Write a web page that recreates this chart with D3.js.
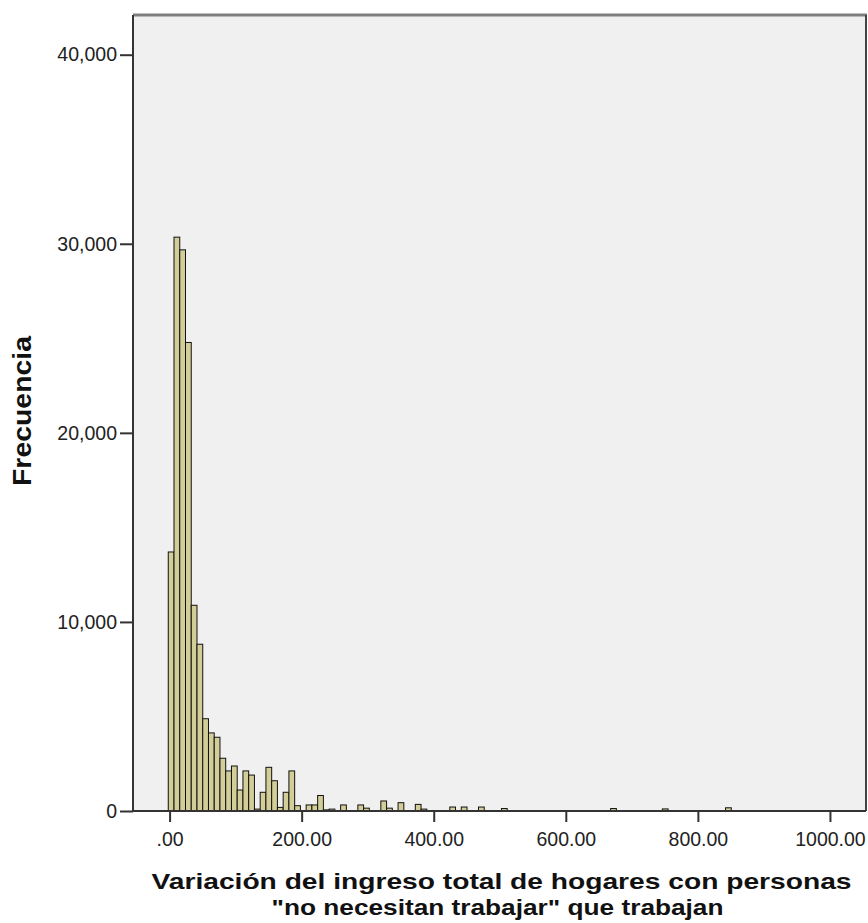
<!DOCTYPE html>
<html>
<head>
<meta charset="utf-8">
<script src="https://cdn.jsdelivr.net/npm/d3@7"></script>
<style>
  html, body { margin: 0; padding: 0; background: #ffffff; }
  svg { display: block; }
</style>
</head>
<body>
<svg id="chart" width="868" height="923"></svg>
<script>
// ---- data ----
const binStart = -2;       // lower edge of first bin
const binWidth = 8.7;      // width of each bin
const counts = [
  13700, 30350, 29680, 24780, 10880, 8820, 4880, 4130, 3900, 2790,
  2120, 2380, 1110, 2120, 1900, 100, 990, 2310, 1600, 190,
  990, 2120, 280, 0, 320, 320, 820, 60, 100, 0,
  320, 0, 0, 320, 150, 0, 0, 530, 150, 0,
  440, 0, 0, 350, 100, 0, 0, 0, 0, 210,
  0, 210, 0, 0, 210, 0, 0, 0, 130, 0,
  0, 0, 0, 0, 0, 0, 0, 0, 0, 0,
  0, 0, 0, 0, 0, 0, 0, 130, 0, 0,
  0, 0, 0, 0, 0, 0, 110, 0, 0, 0,
  0, 0, 0, 0, 0, 0, 0, 170
];
const yTicks = [0, 10000, 20000, 30000, 40000];
const xTicks = [0, 200, 400, 600, 800, 1000];
const xTickLabels = [".00", "200.00", "400.00", "600.00", "800.00", "1000.00"];
const xDomain = [-55.4, 1054.6];
const yDomain = [0, 42100];
const xTitle = ["Variación del ingreso total de hogares con personas", "\"no necesitan trabajar\" que trabajan"];
const yTitle = "Frecuencia";

// ---- layout ----
const plot = { left: 133, right: 866, top: 15, bottom: 811 };
const svg = d3.select("#chart");
const font = "'Liberation Sans', Arial, sans-serif";
const textColor = "#222222";

const x = d3.scaleLinear().domain(xDomain).range([plot.left, plot.right]);
const y = d3.scaleLinear().domain(yDomain).range([plot.bottom, plot.top]);

// background
svg.append("rect")
  .attr("x", plot.left).attr("y", plot.top)
  .attr("width", plot.right - plot.left).attr("height", plot.bottom - plot.top)
  .attr("fill", "#f0f0f0");

// bars
const bins = counts.map((c, i) => ({ x0: binStart + i * binWidth, x1: binStart + (i + 1) * binWidth, c }));
svg.append("g").selectAll("rect")
  .data(bins.filter(d => d.c > 0))
  .join("rect")
  .attr("x", d => x(d.x0))
  .attr("y", d => y(d.c))
  .attr("width", d => x(d.x1) - x(d.x0))
  .attr("height", d => y(0) - y(d.c))
  .attr("fill", "#d3ce97")
  .attr("stroke", "#111111")
  .attr("stroke-width", 1);

// frame: top (gray) and right
svg.append("line")
  .attr("x1", plot.left).attr("x2", plot.right + 1)
  .attr("y1", plot.top).attr("y2", plot.top)
  .attr("stroke", "#7f7f7f").attr("stroke-width", 3);
svg.append("line")
  .attr("x1", plot.right).attr("x2", plot.right)
  .attr("y1", plot.top).attr("y2", plot.bottom)
  .attr("stroke", "#444444").attr("stroke-width", 2);

// y axis
const yAxis = svg.append("g")
  .attr("transform", `translate(${plot.left},0)`)
  .call(d3.axisLeft(y).tickValues(yTicks).tickFormat(d3.format(",")).tickSize(13).tickPadding(3));
yAxis.select(".domain").attr("stroke", "#333333").attr("stroke-width", 2)
  .attr("d", `M0,${plot.top}V${plot.bottom}`);
yAxis.selectAll(".tick line").attr("stroke", "#333333").attr("stroke-width", 2);
yAxis.selectAll(".tick text").attr("font-family", font).attr("font-size", 19.5).attr("fill", textColor);

// x axis
const xAxis = svg.append("g")
  .attr("transform", `translate(0,${plot.bottom})`)
  .call(d3.axisBottom(x).tickValues(xTicks).tickFormat((d, i) => xTickLabels[i]).tickSize(11).tickPadding(10));
xAxis.select(".domain").attr("stroke", "#333333").attr("stroke-width", 2)
  .attr("d", `M${plot.left},0H${plot.right}`);
xAxis.selectAll(".tick line").attr("stroke", "#333333").attr("stroke-width", 2);
xAxis.selectAll(".tick text").attr("font-family", font).attr("font-size", 19.5).attr("fill", textColor);

// titles
const cx = (plot.left + plot.right) / 2;
svg.append("text")
  .attr("x", cx + 2).attr("y", 889)
  .attr("text-anchor", "middle")
  .attr("font-family", font).attr("font-weight", "bold").attr("font-size", 22)
  .attr("textLength", 700).attr("lengthAdjust", "spacingAndGlyphs")
  .attr("fill", "#111111")
  .text(xTitle[0]);
svg.append("text")
  .attr("x", cx - 2).attr("y", 915)
  .attr("text-anchor", "middle")
  .attr("font-family", font).attr("font-weight", "bold").attr("font-size", 22)
  .attr("textLength", 452).attr("lengthAdjust", "spacingAndGlyphs")
  .attr("fill", "#111111")
  .text(xTitle[1]);
svg.append("text")
  .attr("transform", `translate(31,${(plot.top + plot.bottom) / 2 - 2}) rotate(-90)`)
  .attr("text-anchor", "middle")
  .attr("font-family", font).attr("font-weight", "bold").attr("font-size", 25)
  .attr("textLength", 150).attr("lengthAdjust", "spacingAndGlyphs")
  .attr("fill", "#111111")
  .text(yTitle);
</script>
</body>
</html>
